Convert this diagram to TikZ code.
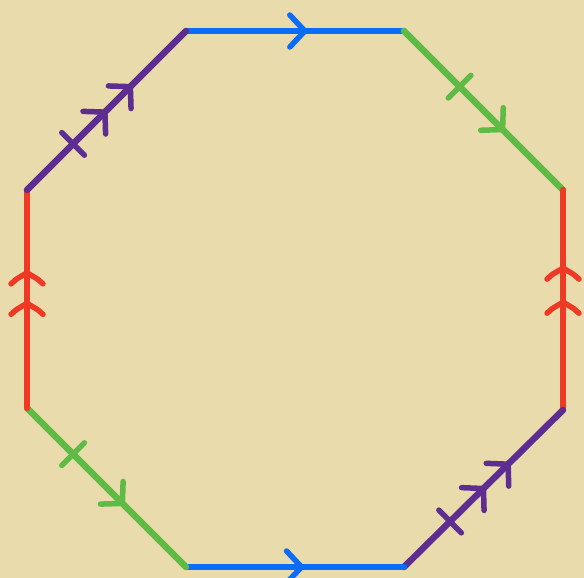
\documentclass[tikz,border=0pt]{standalone}
\usetikzlibrary{decorations.markings}
\definecolor{bg}{HTML}{EADBAD}
\definecolor{cpurple}{HTML}{5E2D91}
\definecolor{cgreen}{HTML}{5FBB46}
\definecolor{cred}{HTML}{EE3A24}
\definecolor{cblue}{HTML}{0A6DF7}
\tikzset{
  edge/.style={line width=6.5pt, line cap=round},
  mk/.style={line width=5.5pt, line cap=round, line join=round},
  chevat/.style={postaction={decorate, decoration={markings,
      mark=at position #1 with {\draw[mk] (-15pt,16pt) -- (0pt,0pt) -- (-15pt,-16pt);}}}},
  redchevat/.style={postaction={decorate, decoration={markings,
      mark=at position #1 with {\draw[mk] (-11pt,16pt) .. controls (-7pt,12pt) .. (0pt,0pt) .. controls (-7pt,-12pt) .. (-11pt,-16pt);}}}},
  tickat/.style={postaction={decorate, decoration={markings,
      mark=at position #1 with {\draw[mk] (0pt,16pt) -- (0pt,-16pt);}}}}
}
\begin{document}
\begin{tikzpicture}[x=1pt,y=-1pt]
  \fill[bg] (0,0) rectangle (584,578);
  \useasboundingbox (0,0) rectangle (584,578);
  \coordinate (A) at (186,31);
  \coordinate (B) at (404,31);
  \coordinate (C) at (563,190);
  \coordinate (D) at (563,410);
  \coordinate (E) at (404,567);
  \coordinate (F) at (186,567);
  \coordinate (G) at (27,408);
  \coordinate (H) at (27,190);
  % top blue
  \draw[edge, cblue, chevat=0.545] (A) -- (B);
  % top-right green
  \draw[edge, cgreen, tickat=0.35, chevat=0.62] (B) -- (C);
  % right red (upwards)
  \draw[edge, cred, redchevat=0.49, redchevat=0.645] (D) -- (C);
  % bottom-right purple
  \draw[edge, cpurple, tickat=0.29, chevat=0.5, chevat=0.655] (E) -- (D);
  % bottom blue
  \draw[edge, cblue, chevat=0.53] (F) -- (E);
  % bottom-left green
  \draw[edge, cgreen, tickat=0.29, chevat=0.60] (G) -- (F);
  % left red (upwards)
  \draw[edge, cred, redchevat=0.48, redchevat=0.62] (G) -- (H);
  % top-left purple
  \draw[edge, cpurple, tickat=0.29, chevat=0.49, chevat=0.65] (H) -- (A);
\end{tikzpicture}
\end{document}
